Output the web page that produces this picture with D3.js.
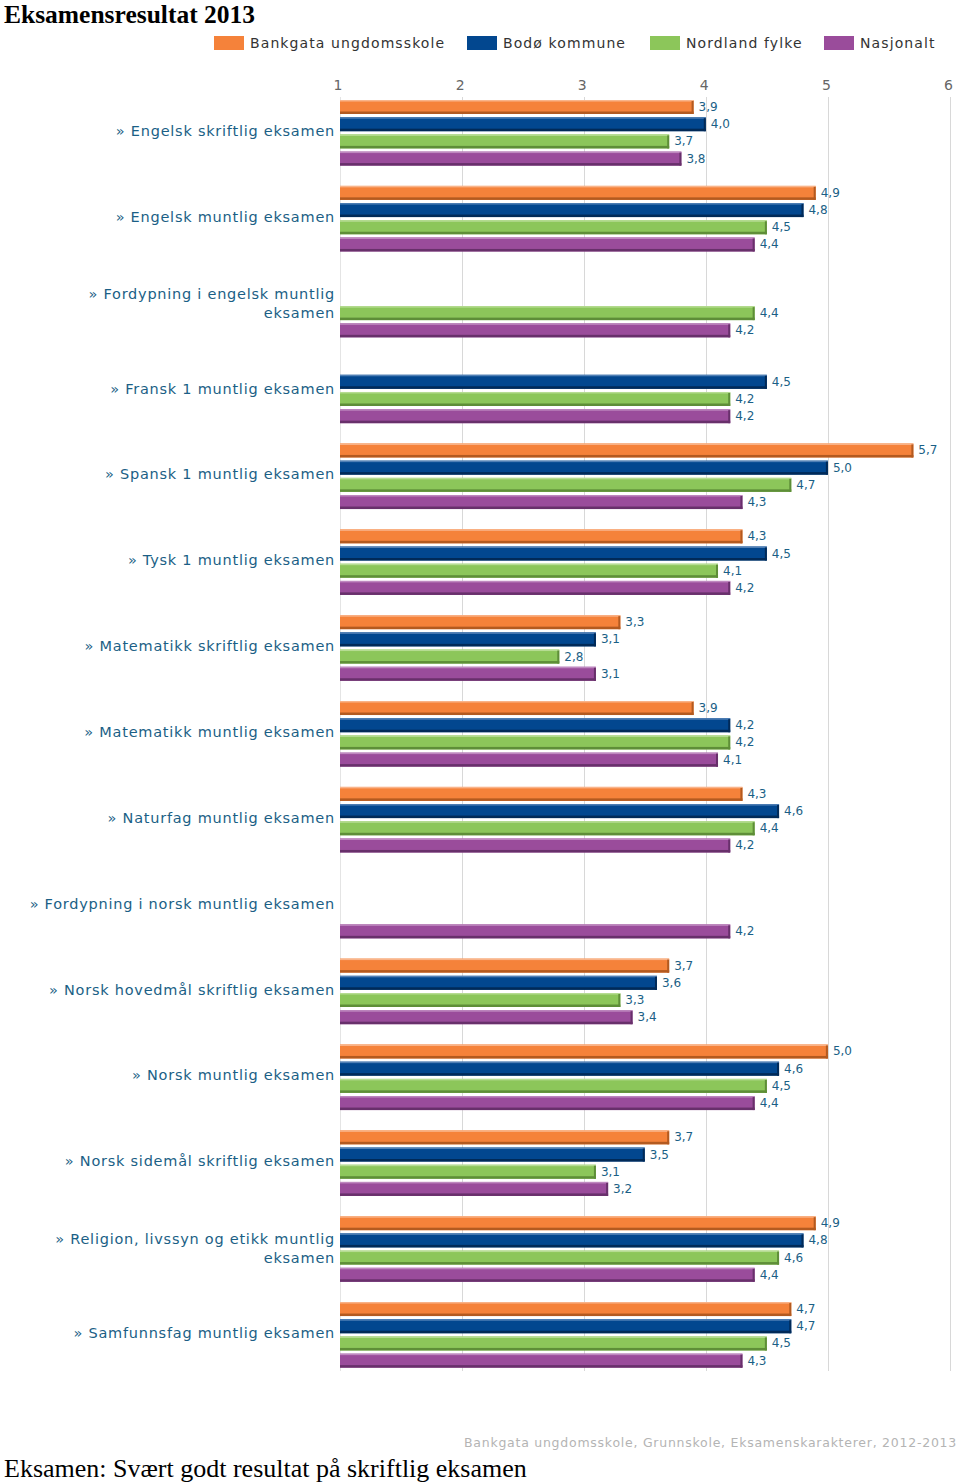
<!DOCTYPE html>
<html>
<head>
<meta charset="utf-8">
<script src="https://cdn.jsdelivr.net/npm/d3@7"></script>
<style>
  html, body { margin: 0; padding: 0; background: #fff; }
  svg { display: block; }
</style>
</head>
<body>
<svg id="chart" width="960" height="1484"></svg>
<script>
const categories = [
  ["» Engelsk skriftlig eksamen"],
  ["» Engelsk muntlig eksamen"],
  ["» Fordypning i engelsk muntlig", "eksamen"],
  ["» Fransk 1 muntlig eksamen"],
  ["» Spansk 1 muntlig eksamen"],
  ["» Tysk 1 muntlig eksamen"],
  ["» Matematikk skriftlig eksamen"],
  ["» Matematikk muntlig eksamen"],
  ["» Naturfag muntlig eksamen"],
  ["» Fordypning i norsk muntlig eksamen"],
  ["» Norsk hovedmål skriftlig eksamen"],
  ["» Norsk muntlig eksamen"],
  ["» Norsk sidemål skriftlig eksamen"],
  ["» Religion, livssyn og etikk muntlig", "eksamen"],
  ["» Samfunnsfag muntlig eksamen"]
];
const seriesNames = ["Bankgata ungdomsskole", "Bodø kommune", "Nordland fylke", "Nasjonalt"];
const bankgata = [3.9, 4.9, null, null, 5.7, 4.3, 3.3, 3.9, 4.3, null, 3.7, 5.0, 3.7, 4.9, 4.7];
const bodo     = [4.0, 4.8, null, 4.5, 5.0, 4.5, 3.1, 4.2, 4.6, null, 3.6, 4.6, 3.5, 4.8, 4.7];
const nordland = [3.7, 4.5, 4.4, 4.2, 4.7, 4.1, 2.8, 4.2, 4.4, null, 3.3, 4.5, 3.1, 4.6, 4.5];
const nasjonalt= [3.8, 4.4, 4.2, 4.2, 4.3, 4.2, 3.1, 4.1, 4.2, 4.2, 3.4, 4.4, 3.2, 4.4, 4.3];
const tickValues = [1, 2, 3, 4, 5, 6];

const seriesValues = [bankgata, bodo, nordland, nasjonalt];
const colors = ["#F5823A", "#02478F", "#8CC65A", "#9A4C9B"];
const darkColors = ["#B35A20", "#012A58", "#5E8E38", "#68306B"];
const lightColors = ["#F9B48A", "#4F7FB5", "#B6DC92", "#BE88BF"];

const svg = d3.select("#chart");
const labelFont = "DejaVu Sans, Verdana, sans-serif";

// Title
svg.append("text").attr("x", 4).attr("y", 23)
  .attr("font-family", "Liberation Serif, Times New Roman, serif")
  .attr("font-weight", "bold").attr("font-size", 25.5).attr("fill", "#000")
  .text("Eksamensresultat 2013");

// Legend
const legendPos = [214, 467, 650, 824];
seriesNames.forEach((name, i) => {
  const g = svg.append("g").attr("transform", `translate(${legendPos[i]},36)`);
  g.append("rect").attr("width", 30).attr("height", 14).attr("fill", colors[i]);
  g.append("text").attr("x", 36).attr("y", 12).attr("font-family", labelFont)
    .attr("font-size", 14).attr("letter-spacing", 1.1).attr("fill", "#333").text(name);
});

// Scales
const x = d3.scaleLinear().domain([1, 6]).range([339.5, 950]);
const y0 = d3.scaleBand().domain(d3.range(categories.length)).range([100, 100 + 15 * 85.86]);
const y1 = d3.scaleBand().domain(d3.range(4)).range([0, 65.6]).paddingInner(0.186);

const gridTop = 97, gridBottom = 1371;

// Gridlines
svg.append("g").selectAll("line").data(tickValues).join("line")
  .attr("x1", d => Math.round(x(d)) + 0.5).attr("x2", d => Math.round(x(d)) + 0.5)
  .attr("y1", gridTop).attr("y2", gridBottom)
  .attr("stroke", d => d === 1 ? "#e4e4e4" : "#d8d8d8").attr("stroke-width", 1);

// Top axis tick labels
const axis = d3.axisTop(x).tickValues(tickValues).tickSize(0).tickFormat(d3.format("d"));
const axisG = svg.append("g").attr("transform", "translate(-2,93)").call(axis);
axisG.select(".domain").remove();
axisG.selectAll("text").attr("font-family", labelFont).attr("font-size", 14).attr("fill", "#666");

// Category labels
const catG = svg.append("g");
categories.forEach((lines, i) => {
  const cy = y0(i) + 31;
  const t = catG.append("text").attr("text-anchor", "end").attr("x", 335)
    .attr("font-family", labelFont).attr("font-size", 14.5)
    .attr("letter-spacing", 0.75).attr("fill", "#1B5F86");
  const lh = 19;
  lines.forEach((ln, j) => {
    t.append("tspan").attr("x", 335)
      .attr("y", cy + 5 + (j - (lines.length - 1) / 2) * lh + (lines.length > 1 ? 1 : 0))
      .text(ln);
  });
});

// Bars
const fmt = v => d3.format(".1f")(v).replace(".", ",");
const barsG = svg.append("g");
seriesValues.forEach((vals, s) => {
  vals.forEach((v, i) => {
    if (v == null) return;
    const by = y0(i) + y1(s);
    const bh = y1.bandwidth();
    const bx = x(1) + 0.5;
    const bw = x(v) - bx;
    const g = barsG.append("g");
    g.append("rect").attr("x", bx).attr("y", by).attr("width", bw).attr("height", bh).attr("fill", colors[s]);
    g.append("rect").attr("x", bx).attr("y", by).attr("width", bw).attr("height", 1.5).attr("fill", lightColors[s]);
    g.append("rect").attr("x", bx).attr("y", by + bh - 2.5).attr("width", bw).attr("height", 2.5).attr("fill", darkColors[s]);
    g.append("rect").attr("x", bx + bw - 2).attr("y", by + 1).attr("width", 2).attr("height", bh - 1).attr("fill", darkColors[s]);
    g.append("text").attr("x", x(v) + 5).attr("y", by + bh / 2 + 4)
      .attr("font-family", labelFont).attr("font-size", 12).attr("fill", "#1B5F86")
      .text(fmt(v));
  });
});

// Source
svg.append("text").attr("x", 957).attr("y", 1447).attr("text-anchor", "end")
  .attr("font-family", labelFont).attr("font-size", 12.5).attr("letter-spacing", 0.75).attr("fill", "#b4b4b4")
  .text("Bankgata ungdomsskole, Grunnskole, Eksamenskarakterer, 2012-2013");

// Bottom caption
svg.append("text").attr("x", 4).attr("y", 1477)
  .attr("font-family", "Liberation Serif, Times New Roman, serif")
  .attr("font-size", 26).attr("fill", "#000")
  .text("Eksamen: Svært godt resultat på skriftlig eksamen");
</script>
</body>
</html>
